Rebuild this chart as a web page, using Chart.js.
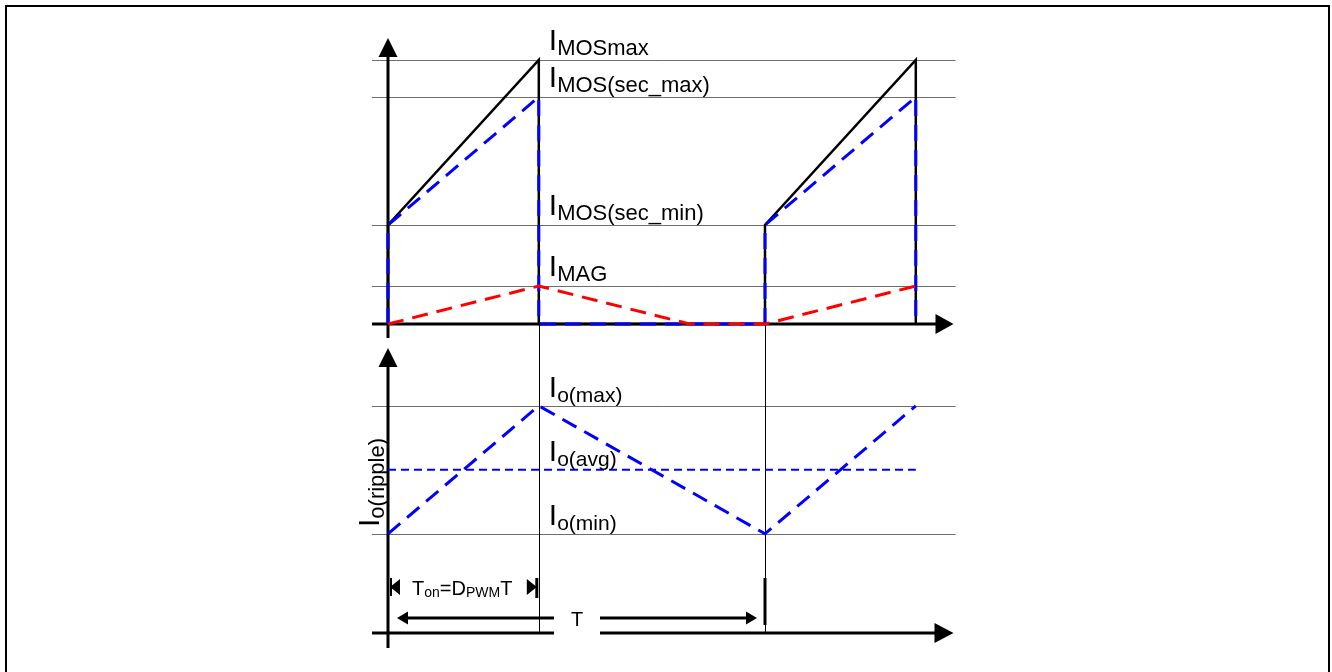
<!DOCTYPE html>
<html>
<head>
<meta charset="utf-8">
<script src="https://cdn.jsdelivr.net/npm/chart.js@4.4.1/dist/chart.umd.min.js"></script>
<style>
  html, body { margin: 0; padding: 0; background: #fff; }
  #wrap { width: 1332px; height: 672px; }
</style>
</head>
<body>
<div id="wrap"><canvas id="chart" width="1332" height="672"></canvas></div>
<script>
// time in units of the switching period T
const duty = 0.4;
const mosTime = [0, 0, 0.4, 0.4, 1.0, 1.0, 1.4, 1.4];
const mosTotal = [0, 3.75, 10, 0, 0, 3.75, 10, 0];      // switch current incl. magnetising
const mosSecondary = [0, 3.75, 8.6, 0, 0, 3.75, 8.6, 0]; // reflected secondary part
const magTime = [0, 0.4, 0.8, 1.0, 1.4];
const magCurrent = [0, 1.44, 0, 0, 1.44];
const ioTime = [0, 0.4, 1.0, 1.4];
const ioRipple = [3.1, 7.1, 3.1, 7.1];
const ioAvgTime = [0, 1.4];
const ioAvg = [5.1, 5.1];

// reference levels and their labels (main letter, subscript)
const topLevels = [10, 8.6, 3.75, 1.44];
const topLabels = [['I', 'MOSmax'], ['I', 'MOS(sec_max)'], ['I', 'MOS(sec_min)'], ['I', 'MAG']];
const bottomLevels = [7.1, 5.1, 3.1];
const bottomLabels = [['I', 'o(max)'], ['I', 'o(avg)'], ['I', 'o(min)']];

// page layout: where t=0 / zero current sit and how many px per unit
const W = 1332, H = 672;
const X0 = 388, PER_T = 377;
const TOP_ZERO = 324, TOP_PER = 26.4;
const BOT_ZERO = 633, BOT_PER = 32;

const FONT = '"Liberation Sans", Arial, sans-serif';

const pts = (xs, ys) => xs.map((x, i) => ({ x: x, y: ys[i] }));

function arrow(ctx, tipX, tipY, dir, len, half) {
  // dir: 'up' | 'right' | 'left'
  ctx.beginPath();
  ctx.moveTo(tipX, tipY);
  if (dir === 'up') {
    ctx.lineTo(tipX - half, tipY + len);
    ctx.lineTo(tipX + half, tipY + len);
  } else if (dir === 'right') {
    ctx.lineTo(tipX - len, tipY - half);
    ctx.lineTo(tipX - len, tipY + half);
  } else {
    ctx.lineTo(tipX + len, tipY - half);
    ctx.lineTo(tipX + len, tipY + half);
  }
  ctx.closePath();
  ctx.fill();
}

function line(ctx, x1, y1, x2, y2) {
  ctx.beginPath();
  ctx.moveTo(x1, y1);
  ctx.lineTo(x2, y2);
  ctx.stroke();
}

function subLabel(ctx, x, y, main, sub, mainSize, subSize, drop) {
  ctx.font = mainSize + 'px ' + FONT;
  ctx.fillText(main, x, y);
  const w = ctx.measureText(main).width;
  ctx.font = subSize + 'px ' + FONT;
  ctx.fillText(sub, x + w, y + drop);
}

// axes, grid lines, arrows and annotations drawn around the datasets
const diagramPlugin = {
  id: 'diagram',
  beforeDatasetsDraw(chart) {
    const ctx = chart.ctx;
    const xs = chart.scales.x, yt = chart.scales.yTop, yb = chart.scales.yBot;
    const x0 = xs.getPixelForValue(0);
    const xOn = xs.getPixelForValue(duty);
    const xT = xs.getPixelForValue(1);
    const xEnd = xs.getPixelForValue(1.5);
    const topZero = yt.getPixelForValue(0);
    const botZero = yb.getPixelForValue(0);
    ctx.save();

    // frame
    ctx.strokeStyle = '#000';
    ctx.lineWidth = 2;
    ctx.strokeRect(6, 6, 1323, 700);

    // grid lines
    ctx.strokeStyle = '#6e6e6e';
    ctx.lineWidth = 1;
    topLevels.forEach(v => {
      const y = Math.round(yt.getPixelForValue(v)) + 0.5;
      line(ctx, x0 - 16, y, xEnd + 2, y);
    });
    [bottomLevels[0], bottomLevels[2]].forEach(v => {
      const y = Math.round(yb.getPixelForValue(v)) + 0.5;
      line(ctx, x0 - 16, y, xEnd + 2, y);
    });

    // thin markers at t = D*T and t = T
    ctx.strokeStyle = '#000';
    [xOn, xT].forEach(x => line(ctx, Math.round(x) + 0.5, topZero, Math.round(x) + 0.5, botZero));

    // axes
    ctx.fillStyle = '#000';
    ctx.lineWidth = 3;
    line(ctx, x0 - 16, topZero, xEnd - 16, topZero);
    arrow(ctx, xEnd, topZero, 'right', 18, 10);
    line(ctx, x0, topZero + 14, x0, 50);
    arrow(ctx, x0, 38, 'up', 19, 9.5);

    line(ctx, x0 - 16, botZero, xEnd - 16, botZero);
    arrow(ctx, xEnd, botZero, 'right', 19, 10);
    line(ctx, x0, botZero + 15, x0, 360);
    arrow(ctx, x0, 348, 'up', 19, 9.5);
    ctx.restore();
  },
  afterDatasetsDraw(chart) {
    const ctx = chart.ctx;
    const xs = chart.scales.x, yt = chart.scales.yTop, yb = chart.scales.yBot;
    const x0 = xs.getPixelForValue(0);
    const xOn = xs.getPixelForValue(duty);
    const xT = xs.getPixelForValue(1);
    ctx.save();
    ctx.fillStyle = '#000';
    ctx.strokeStyle = '#000';
    ctx.textBaseline = 'alphabetic';
    ctx.textAlign = 'left';

    // level labels
    topLevels.forEach((v, i) => {
      subLabel(ctx, xOn + 10, yt.getPixelForValue(v) - 10, topLabels[i][0], topLabels[i][1], 30, 22, 5);
    });
    bottomLevels.forEach((v, i) => {
      subLabel(ctx, xOn + 10, yb.getPixelForValue(v) - 8.5, bottomLabels[i][0], bottomLabels[i][1], 30, 21, 5);
    });

    // rotated axis label
    ctx.save();
    ctx.translate(x0 - 9, 527);
    ctx.rotate(-Math.PI / 2);
    subLabel(ctx, 0, 0, 'I', 'o(ripple)', 30, 22, 5);
    ctx.restore();

    // T_on dimension
    const yOn = 587;
    arrow(ctx, x0 + 2, yOn, 'left', 10, 8);
    ctx.lineWidth = 2;
    line(ctx, x0 + 3, yOn - 9, x0 + 3, yOn + 9);
    arrow(ctx, xOn - 2, yOn, 'right', 10, 8);
    ctx.lineWidth = 3;
    line(ctx, xOn - 2, yOn - 9, xOn - 2, yOn + 11);
    const parts = [['T', 20, 0], ['on', 14, 2], ['=', 20, 0], ['D', 20, 0], ['PWM', 14, 2], ['T', 20, 0]];
    let tx = 412;
    parts.forEach(p => {
      ctx.font = p[1] + 'px ' + FONT;
      ctx.fillText(p[0], tx, 595 + p[2]);
      tx += ctx.measureText(p[0]).width;
    });

    // period T dimension
    const yP = 618;
    ctx.lineWidth = 3;
    line(ctx, x0 + 18, yP, xT - 16, yP);
    arrow(ctx, x0 + 9, yP, 'left', 11, 6.5);
    arrow(ctx, xT - 8, yP, 'right', 11, 6.5);
    line(ctx, xT, 578, xT, 625);
    ctx.fillStyle = '#fff';
    ctx.fillRect(554, 604, 46, 36);
    ctx.fillStyle = '#000';
    ctx.font = '20px ' + FONT;
    ctx.textAlign = 'center';
    ctx.fillText('T', 577, 626);
    ctx.restore();
  }
};

const ctx = document.getElementById('chart').getContext('2d');
new Chart(ctx, {
  type: 'line',
  data: {
    datasets: [
      { data: pts(magTime, magCurrent), yAxisID: 'yTop', borderColor: '#ff0000', borderWidth: 3, borderDash: [16, 9] },
      { data: pts(ioAvgTime, ioAvg), yAxisID: 'yBot', borderColor: '#0000ff', borderWidth: 2, borderDash: [8, 5] },
      { data: pts(ioTime, ioRipple), yAxisID: 'yBot', borderColor: '#0000ff', borderWidth: 3, borderDash: [16, 9] },
      { data: pts(mosTime, mosSecondary), yAxisID: 'yTop', borderColor: '#0000ff', borderWidth: 3, borderDash: [16, 9] },
      { data: pts(mosTime, mosTotal), yAxisID: 'yTop', borderColor: '#000000', borderWidth: 2.5 }
    ]
  },
  options: {
    responsive: false,
    animation: false,
    events: [],
    layout: { padding: 0 },
    elements: { point: { radius: 0 }, line: { tension: 0, fill: false } },
    plugins: { legend: { display: false }, tooltip: { enabled: false } },
    scales: {
      x: { type: 'linear', display: false, min: -X0 / PER_T, max: (W - X0) / PER_T },
      yTop: { type: 'linear', display: false, min: (TOP_ZERO - H) / TOP_PER, max: TOP_ZERO / TOP_PER },
      yBot: { type: 'linear', display: false, min: (BOT_ZERO - H) / BOT_PER, max: BOT_ZERO / BOT_PER }
    }
  },
  plugins: [diagramPlugin]
});
</script>
</body>
</html>
